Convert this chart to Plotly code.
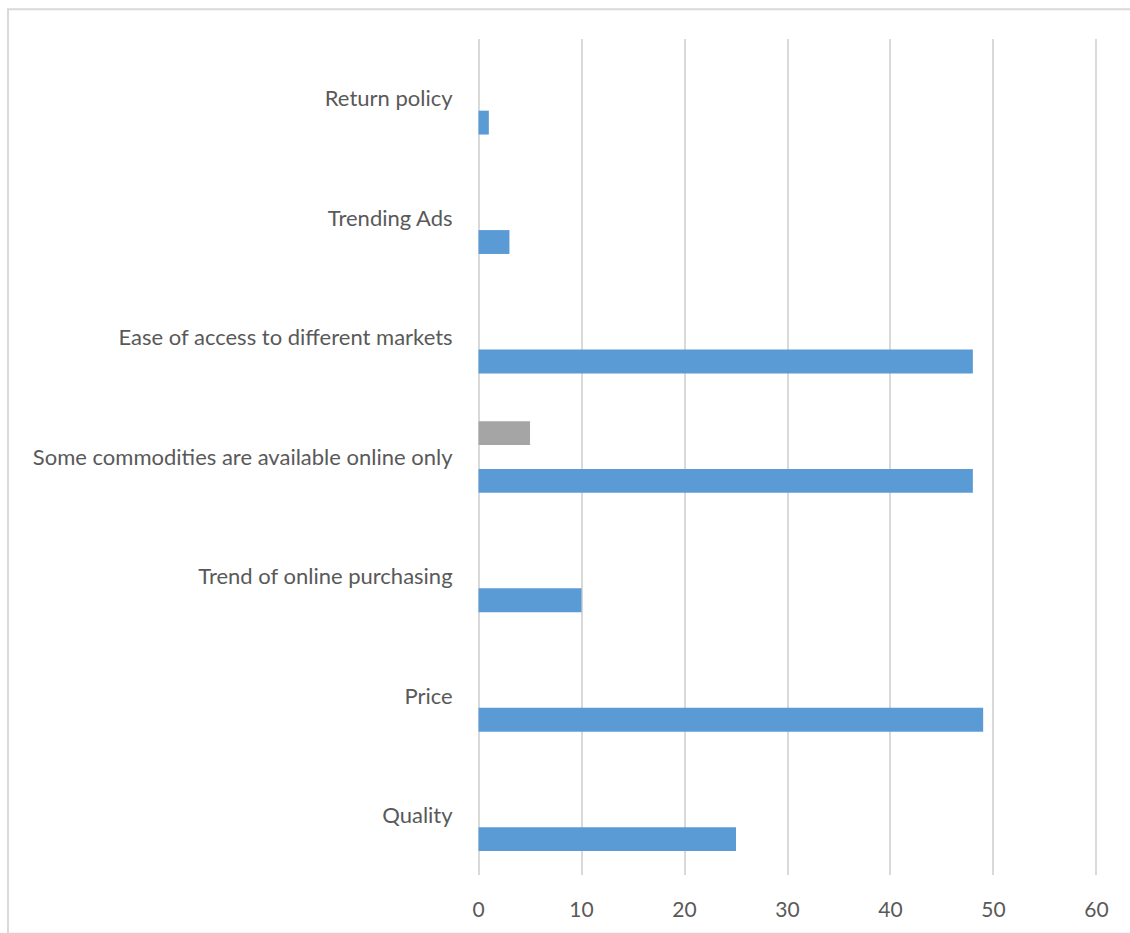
import plotly.graph_objects as go

categories = ["Quality", "Price", "Trend of online purchasing",
              "Some commodities are available online only",
              "Ease of access to different markets", "Trending Ads", "Return policy"]
series1 = [25, 49, 10, 48, 48, 3, 1]
series2 = [0, 0, 0, 0, 0, 0, 0]
series3 = [0, 0, 0, 5, 0, 0, 0]
x_ticks = [0, 10, 20, 30, 40, 50, 60]

W, H = 1130, 933
L, R, T, B = 477, 32, 39, 54
pw, ph = W - L - R, H - T - B

fig = go.Figure()
for vals, col, nm in [(series1, "#5B9BD5", "Series1"),
                      (series2, "#ED7D31", "Series2"),
                      (series3, "#A5A5A5", "Series3")]:
    fig.add_trace(go.Bar(y=categories, x=vals, orientation="h", marker_color=col,
                         marker_line_width=0, name=nm))

font_fam = "Lato, Carlito, Calibri, sans-serif"
fig.update_layout(
    width=W, height=H,
    margin=dict(l=L, r=R, t=T, b=B),
    barmode="group", bargap=0.4, bargroupgap=0,
    plot_bgcolor="white", paper_bgcolor="white",
    showlegend=False,
    font=dict(family=font_fam, size=22, color="#595959"),
    xaxis=dict(range=[-0.15, 60.15], tickvals=x_ticks, showgrid=True, gridcolor="#D9D9D9",
               gridwidth=1.5, zeroline=False, showline=False,
               ticks="outside", ticklen=16, tickcolor="rgba(0,0,0,0)",
               tickfont=dict(size=21, color="#595959")),
    yaxis=dict(showgrid=False, zeroline=False, showline=False,
               ticks="outside", ticklen=19, tickcolor="rgba(0,0,0,0)",
               tickfont=dict(size=22, color="#595959")),
)

# outer chart-area border
x0 = (8 - L) / pw
y1 = 1 - (9 - T) / ph
fig.add_shape(type="rect", xref="paper", yref="paper",
              x0=x0, x1=(W + 5 - L) / pw, y0=-(B + 5) / ph, y1=y1,
              line=dict(color="#D9D9D9", width=2), fillcolor="rgba(0,0,0,0)", layer="below")

fig.write_html("out.html")
